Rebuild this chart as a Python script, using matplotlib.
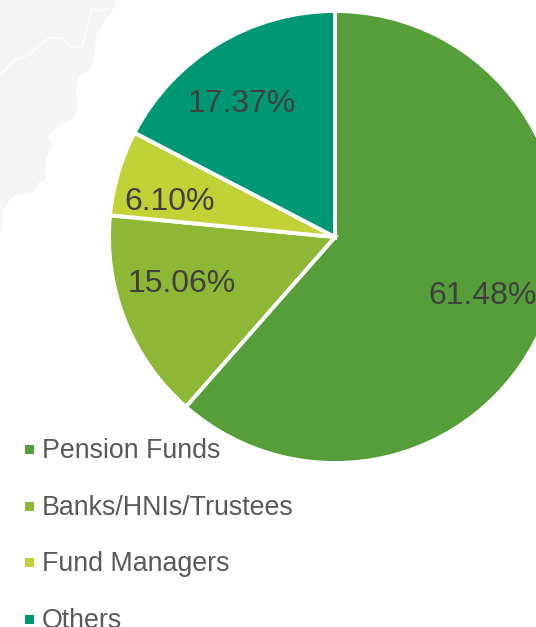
import matplotlib
matplotlib.use('Agg')
import matplotlib.pyplot as plt
from matplotlib.patches import Polygon, Rectangle

W, H = 536, 627

# datos del grafico
categorias = ['Pension Funds', 'Banks/HNIs/Trustees', 'Fund Managers', 'Others']
valores = [61.48, 15.06, 6.10, 17.37]
etiquetas = ['61.48%', '15.06%', '6.10%', '17.37%']
colores = ['#559E39', '#8DB734', '#C1D237', '#009874']

# donde van los textos, en pixeles
etiqueta_x = [483, 182, 170, 242]
etiqueta_y = [296, 284, 202, 104]
leyenda_y = [449.5, 506.5, 562.5, 619.5]

# mapa de fondo, apenas visible
mapa_x = [0, 116, 115, 105, 97, 93, 90, 78, 76, 78, 75, 60, 48, 52, 46, 45, 38, 33, 15, 10, 3, 1, 0]
mapa_y = [0, 0, 8, 20, 35, 60, 70, 77, 90, 100, 118, 125, 135, 145, 160, 180, 183, 193, 195, 200, 210, 232, 232]
frontera_x = [0, 15, 30, 37, 48, 62, 72, 82, 90, 92, 100, 115]
frontera_y = [75, 60, 55, 47, 38, 38, 47, 47, 15, 8, 11, 8]

plt.rcParams['font.family'] = ['Liberation Sans', 'DejaVu Sans']

fig = plt.figure(figsize=(W / 100, H / 100), dpi=100)
ax = fig.add_axes([0, 0, 1, 1])

ax.add_patch(Polygon(list(zip(mapa_x, mapa_y)), closed=True, fc='#F5F5F5', ec='none', zorder=0))
ax.plot(frontera_x, frontera_y, color='white', lw=0.8, zorder=0.5)

# el eje y va invertido, por eso el sentido queda horario en pantalla
ax.pie(valores, colors=colores, startangle=-90, counterclock=True,
       center=(335, 237), radius=226,
       wedgeprops={'edgecolor': 'white', 'linewidth': 2.8})

for txt, x, y in zip(etiquetas, etiqueta_x, etiqueta_y):
    ax.text(x, y, txt, fontsize=23, color='#404040', ha='center', va='center')

for nombre, color, y in zip(categorias, colores, leyenda_y):
    ax.add_patch(Rectangle((25, y - 4.5), 9, 9, fc=color, ec='none'))
    ax.text(42, y + 1.5, nombre, fontsize=19.3, color='#595959', ha='left', va='center')

ax.set_xlim(0, W)
ax.set_ylim(H, 0)
ax.set_aspect('equal')
ax.axis('off')

fig.savefig('out.png', dpi=100)
